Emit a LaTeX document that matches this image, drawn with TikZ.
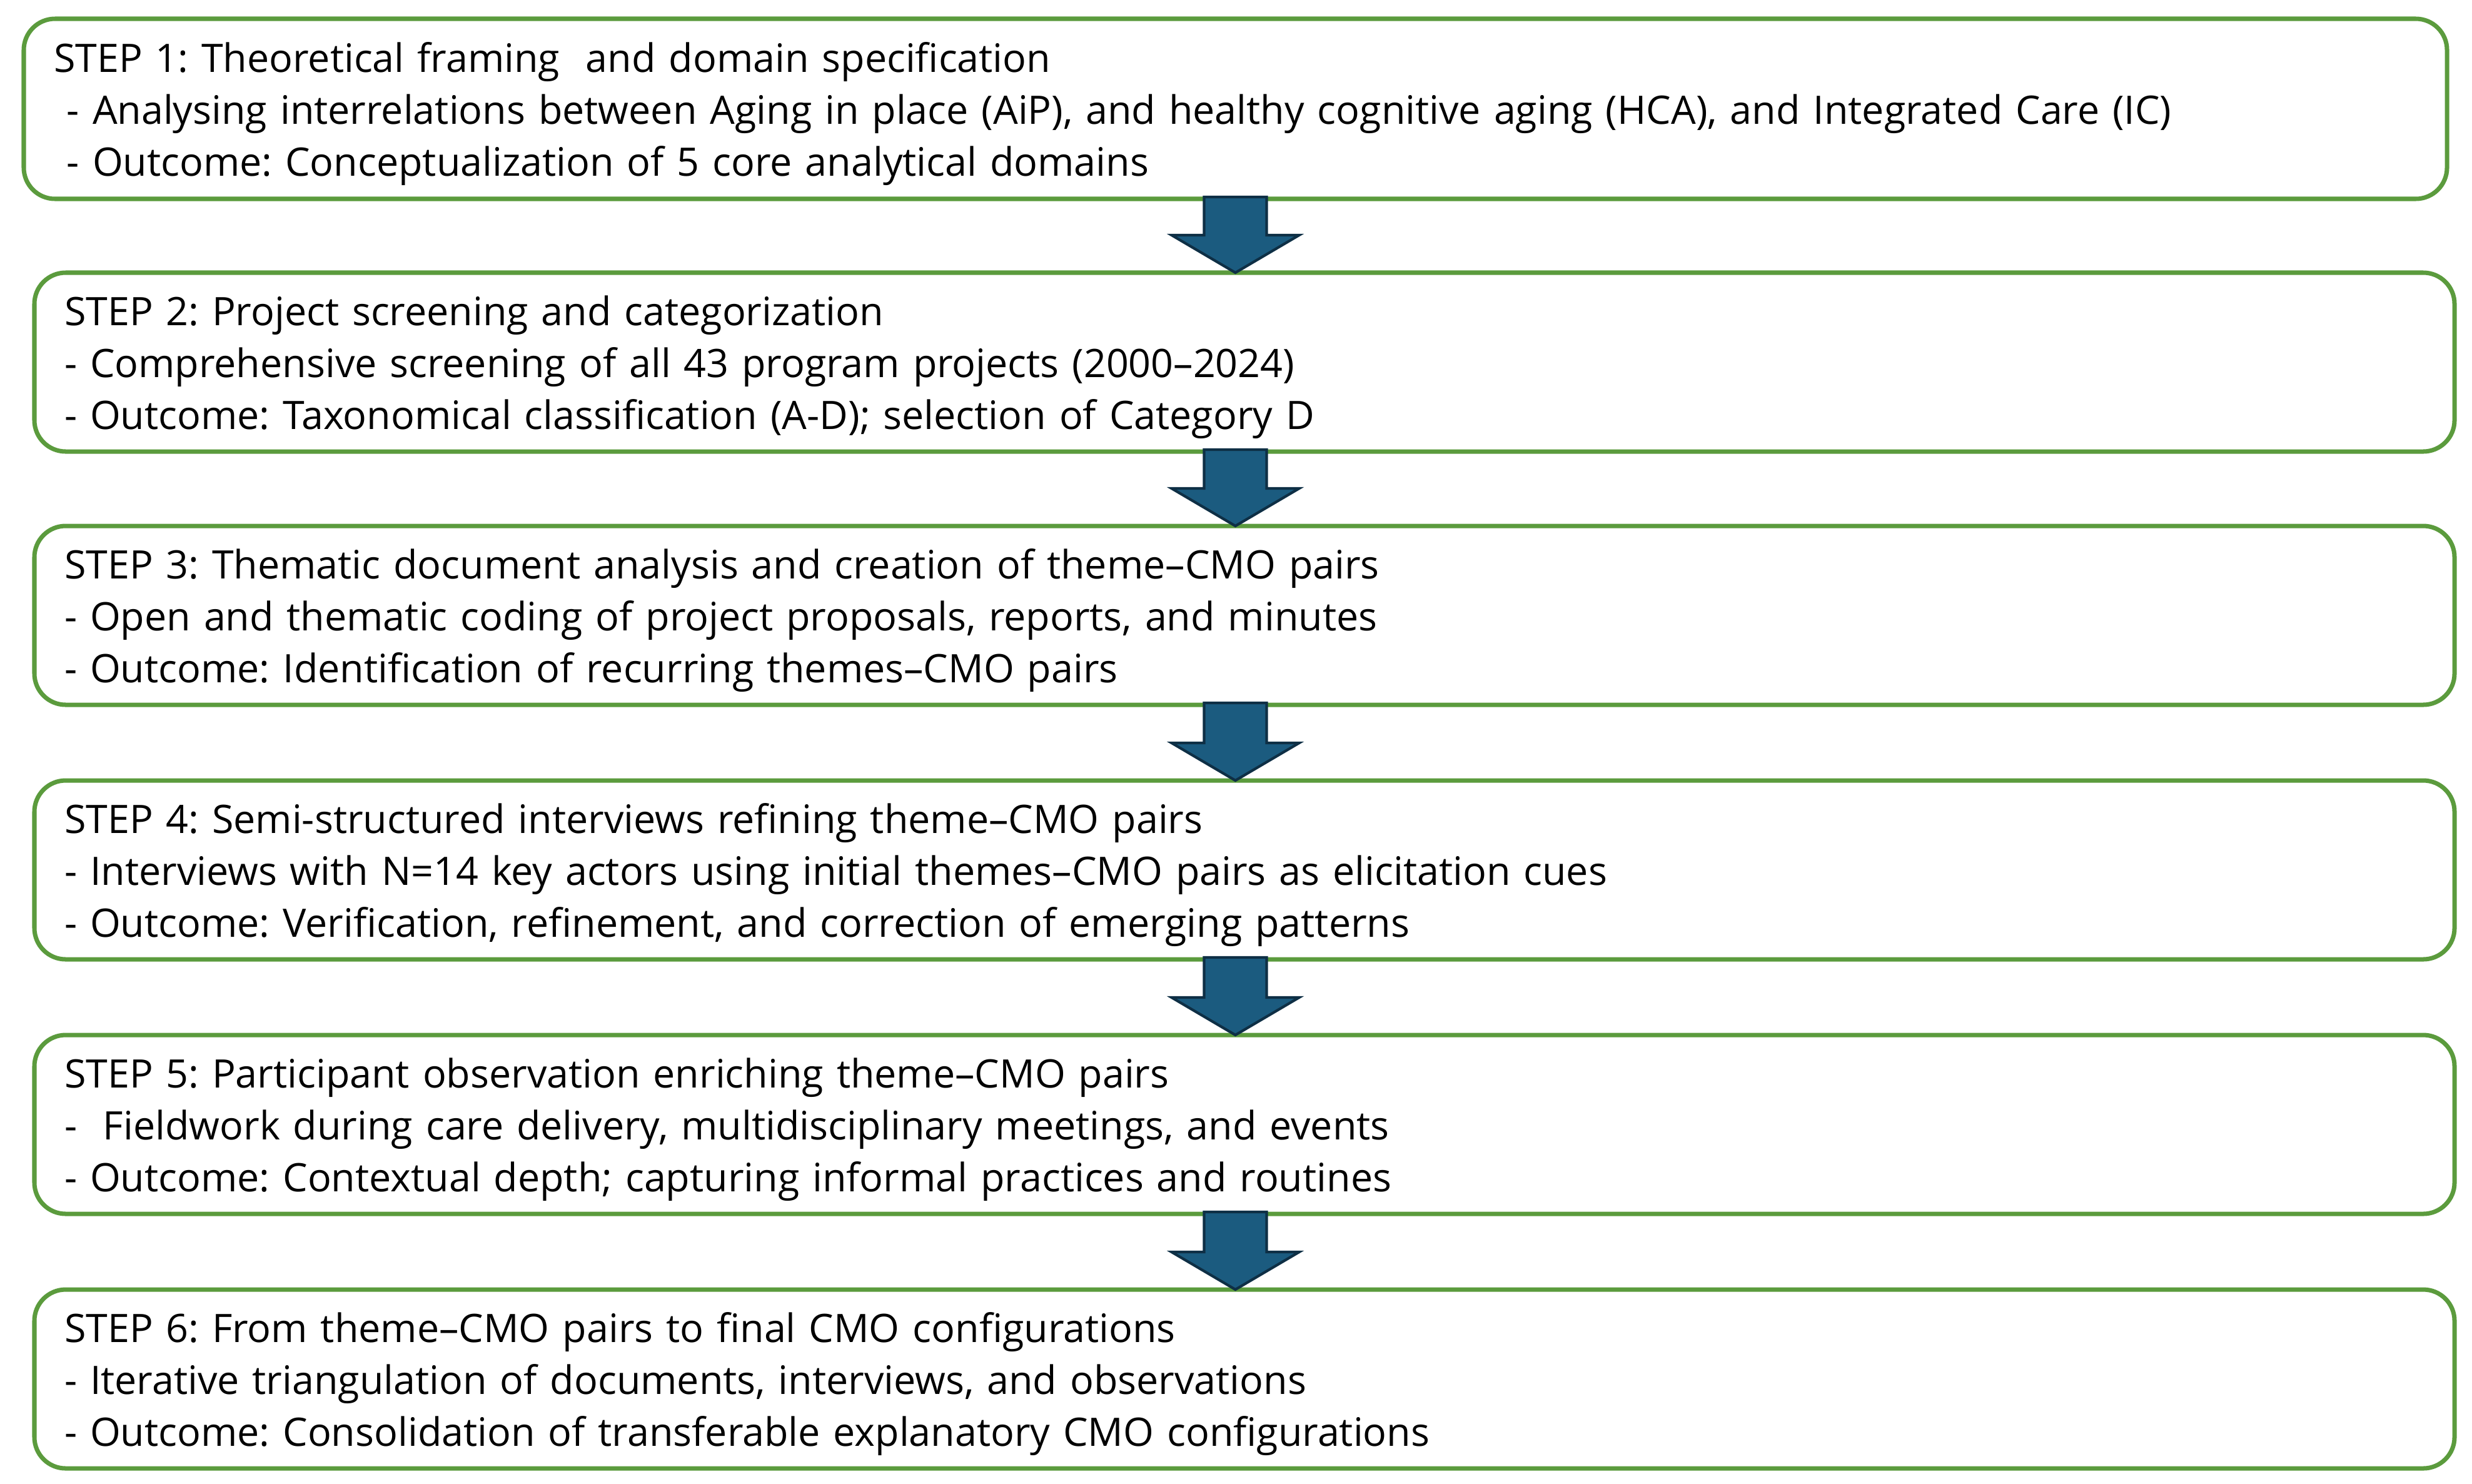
\documentclass[tikz,border=0pt]{standalone}
\usepackage{fontspec}
\setmainfont{Open Sans}
\frenchspacing
\usepackage{tikz}
\usetikzlibrary{positioning, calc}
\definecolor{step-green}{HTML}{5B9B3D}
\definecolor{step-blue}{HTML}{1B5B7F}
\definecolor{step-navy}{HTML}{0E2F45}

% block arrow between two steps, kept on the axis of the first box
\newcommand{\steparrow}[2]{%
  \draw[flow] let \p1=(#1.south), \p2=(#2.north), \p3=(s1.south) in
    (\x3-0.5cm,\y1+0.03cm) -- (\x3+0.5cm,\y1+0.03cm) -- (\x3+0.5cm,\y2+0.6cm)
    -- (\x3+1.02cm,\y2+0.6cm) -- (\x3,\y2) -- (\x3-1.02cm,\y2+0.6cm)
    -- (\x3-0.5cm,\y2+0.6cm) -- cycle;}

\begin{document}
\begin{tikzpicture}[
    stepbox/.style={draw=step-green, line width=2pt, rounded corners=0.5cm, fill=white,
                    text width=37.74cm, minimum height=2.86cm, align=left, inner xsep=0.48cm,
                    outer sep=0pt, font=\fontsize{17.85}{23.6}\selectfont,
                    execute at begin node={\rule{0pt}{18pt}}},
    flow/.style={fill=step-blue, draw=step-navy, line width=1.2pt, line join=miter},
]
    \useasboundingbox (0,0) rectangle (39.53,-23.72);

    % Steps
    \node[stepbox, text width=37.79cm, minimum height=2.88cm] (s1) at (19.755,-1.74)
        {STEP 1: Theoretical framing\ \ and domain specification\\
         \ - Analysing interrelations between Aging in place (AiP), and healthy cognitive aging (HCA), and Integrated Care (IC)\\
         \ - Outcome: Conceptualization of 5 core analytical domains};
    \node[stepbox, below=1.18cm of s1, xshift=0.145cm] (s2)
        {STEP 2: Project screening and categorization\\
         - Comprehensive screening of all 43 program projects (2000–2024)\\
         - Outcome: Taxonomical classification (A-D); selection of Category D};
    \node[stepbox, below=1.19cm of s2] (s3)
        {STEP 3: Thematic document analysis and creation of theme–CMO pairs\\
         - Open and thematic coding of project proposals, reports, and minutes\\
         - Outcome: Identification of recurring themes–CMO pairs};
    \node[stepbox, below=1.21cm of s3] (s4)
        {STEP 4: Semi-structured interviews refining theme–CMO pairs\\
         - Interviews with N=14 key actors using initial themes–CMO pairs as elicitation cues\\
         - Outcome: Verification, refinement, and correction of emerging patterns};
    \node[stepbox, below=1.21cm of s4] (s5)
        {STEP 5: Participant observation enriching theme–CMO pairs\\
         -\ \ Fieldwork during care delivery, multidisciplinary meetings, and events\\
         - Outcome: Contextual depth; capturing informal practices and routines};
    \node[stepbox, below=1.21cm of s5] (s6)
        {STEP 6: From theme–CMO pairs to final CMO configurations\\
         - Iterative triangulation of documents, interviews, and observations\\
         - Outcome: Consolidation of transferable explanatory CMO configurations};

    % Arrows
    \steparrow{s1}{s2}
    \steparrow{s2}{s3}
    \steparrow{s3}{s4}
    \steparrow{s4}{s5}
    \steparrow{s5}{s6}

\end{tikzpicture}
\end{document}
